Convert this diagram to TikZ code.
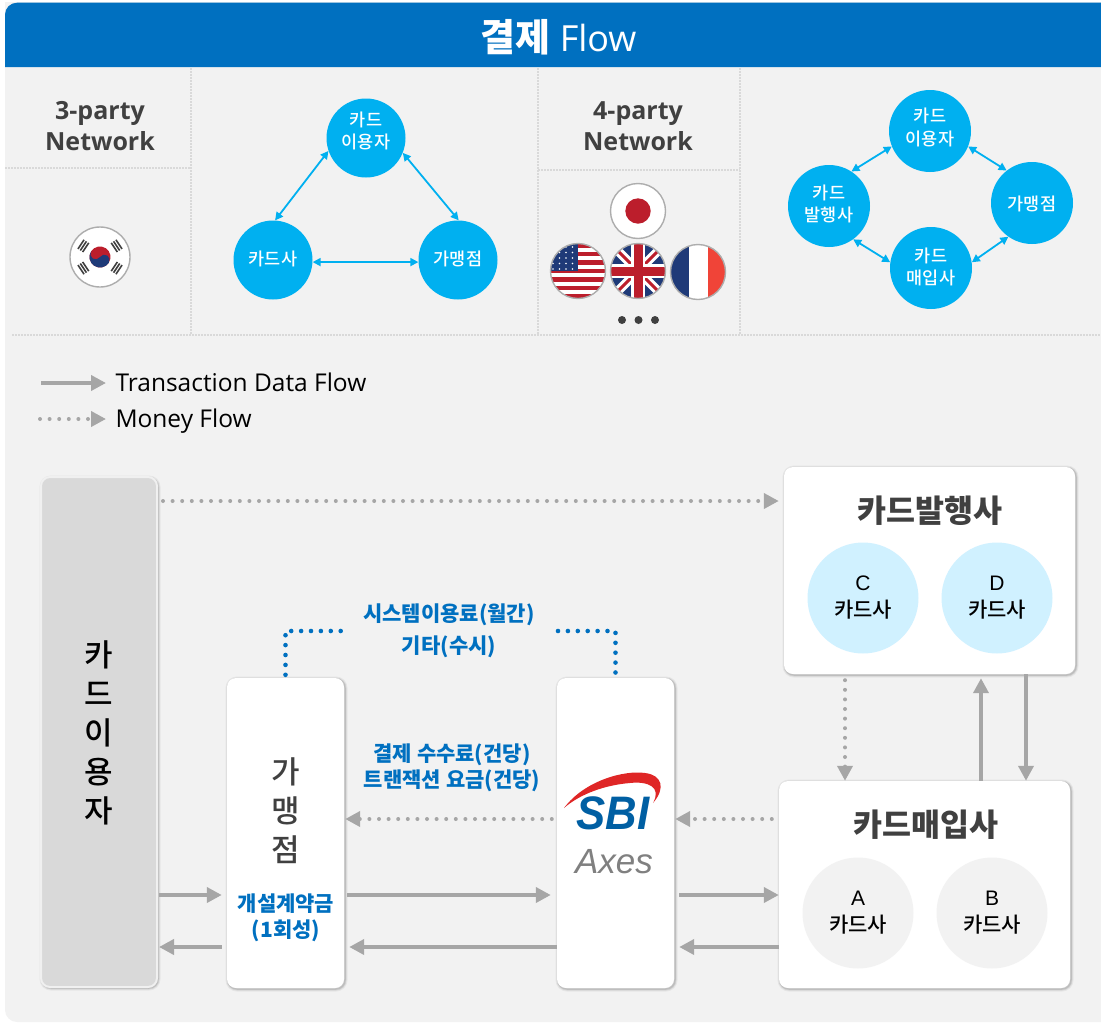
\documentclass[tikz,border=0pt]{standalone}
\usepackage{fontspec}
\usetikzlibrary{arrows.meta}
\setmainfont{Open Sans}
\newfontfamily\kr{Noto Sans CJK KR}
\newfontfamily\krm[UprightFont=* Medium]{Noto Sans CJK KR}
\newfontfamily\lib{Liberation Sans}
\newfontfamily\sbifont[UprightFont=* Bold Italic]{Liberation Sans}
\definecolor{headblue}{HTML}{0070C0}
\definecolor{skyblue}{HTML}{00B0F0}
\definecolor{panelgray}{HTML}{F2F2F2}
\definecolor{arrowgray}{HTML}{A6A6A6}
\definecolor{sepgray}{HTML}{D9D9D9}
\definecolor{darktext}{HTML}{404040}
\definecolor{paleblue}{HTML}{D0F1FF}
\definecolor{flagred}{HTML}{BC1E2C}
\definecolor{flagblue}{HTML}{1F3A78}
\definecolor{flagorange}{HTML}{F04438}
\tikzset{
	party/.style={circle,fill=skyblue,minimum size=79pt,inner sep=0pt},
	partytext/.style={text=white,align=center,inner sep=0pt,font=\krm\fontsize{17.5}{22.5}\selectfont},
	partyarrow/.style={{Triangle[length=8pt,width=8pt]}-{Triangle[length=8pt,width=8pt]},skyblue,line width=1.8pt},
	nettitle/.style={align=center,text=darktext,font=\bfseries\fontsize{25}{31}\selectfont},
	sep/.style={sepgray,line width=1.5pt,dash pattern=on 1.5pt off 1.5pt},
	flagring/.style={draw=black!32,line width=1.4pt},
	box/.style={fill=white,rounded corners=9pt,inner sep=0pt,
		preaction={draw=black,draw opacity=0.05,line width=5pt,transform canvas={xshift=1pt,yshift=-1pt}},
		preaction={draw=black,draw opacity=0.07,line width=3pt,transform canvas={xshift=1pt,yshift=-1pt}},
		preaction={draw=black,draw opacity=0.10,line width=1.5pt,transform canvas={xshift=1pt,yshift=-1pt}}},
	vtext/.style={align=center,font=\krm\fontsize{31}{39}\selectfont},
	boxtitle/.style={text=darktext,font=\kr\bfseries\fontsize{31.5}{36}\selectfont},
	company/.style={circle,minimum size=111pt,inner sep=0pt,align=center,font=\krm\fontsize{21}{26}\selectfont},
	bluetext/.style={text=headblue,align=center,font=\kr\bfseries\fontsize{21}{26}\selectfont},
	data/.style={-{Triangle[length=15pt,width=15pt]},arrowgray,line width=4pt},
	money/.style={-{Triangle[length=15pt,width=15pt]},arrowgray,line width=4pt,line cap=round,dash pattern=on 0pt off 9.6pt},
	fee/.style={headblue,line width=4.6pt,line cap=round,dash pattern=on 0pt off 9.9pt},
	legend/.style={anchor=west,text height=17pt,text depth=5pt,font=\fontsize{24.5}{28}\selectfont}
}
\begin{document}
\begin{tikzpicture}[x=1pt,y=-1pt]
	\useasboundingbox (0,0) rectangle (1101,1023);
	% Grundflaechen
	\fill[panelgray] (5,2) [rounded corners=12pt] -- (5,1022) [sharp corners] -- (1101,1022) -- (1101,2) -- cycle;
	\fill[headblue] (5,67) [rounded corners=12pt] -- (5,2.7) [sharp corners] -- (1101,2.7) -- (1101,67) -- cycle;
	\node[text=white,font=\fontsize{36}{40}\selectfont] (title) at (558.5,37) {{\kr\bfseries\fontsize{38}{40}\selectfont 결제} Flow};
	% Trennlinien
	\draw[sep] (191,68) -- (191,335);
	\draw[sep] (538,68) -- (538,335);
	\draw[sep] (740,68) -- (740,335);
	\draw[sep] (5,168) -- (191,168);
	\draw[sep] (538,170) -- (740,170);
	\draw[sep] (12,335) -- (1101,335);
	% 3-party
	\node[nettitle] (three) at (100,126) {3-party\\Network};
	\node[party] (userA) at (366,138) {};
	\node[party] (cardA) at (273,260) {};
	\node[party] (shopA) at (458,260) {};
	\node[partytext] (userAtext) at (366,131) {카드\\이용자};
	\node[partytext] (cardAtext) at (273,259) {카드사};
	\node[partytext] (shopAtext) at (458,259) {가맹점};
	\draw[partyarrow] (userA.199) -- (cardA.87);
	\draw[partyarrow] (userA.338) -- (shopA.89);
	\draw[partyarrow] (cardA.357) -- (shopA.183);
	% 4-party
	\node[nettitle] (four) at (638,126) {4-party\\Network};
	\node[party,minimum size=82pt] (userB) at (930,131) {};
	\node[party,minimum size=82pt] (issuerB) at (829,206) {};
	\node[party,minimum size=82pt] (shopB) at (1032,203) {};
	\node[party,minimum size=82pt] (acqB) at (931,268) {};
	\node[partytext] (userBtext) at (930,127.5) {카드\\이용자};
	\node[partytext] (issuerBtext) at (829,204) {카드\\발행사};
	\node[partytext] (shopBtext) at (1032,203.5) {가맹점};
	\node[partytext] (acqBtext) at (931,267) {카드\\매입사};
	\draw[partyarrow] (issuerB.57) -- (userB.202);
	\draw[partyarrow] (userB.338) -- (shopB.128);
	\draw[partyarrow] (issuerB.306) -- (acqB.172);
	\draw[partyarrow] (acqB.8) -- (shopB.235);
	% Korea
	\fill[white] (100,257) circle (30pt);
	\begin{scope}[shift={(100,257)},y=1pt,rotate=-33.7]
		\fill[flagred] (0,0) circle (10.5pt);
		\fill[flagblue] (-10.5,0) arc (180:360:10.5pt) arc (0:180:5.25pt) arc (0:-180:5.25pt) -- cycle;
	\end{scope}
	\foreach \ang in {33.7,146.3,213.7,326.3}{
		\begin{scope}[shift={(100,257)},y=1pt,rotate=\ang]
			\foreach \rad in {-2.8,0,2.8}
				\draw[black!75,line width=1.6pt] (20+\rad,-5.5) -- (20+\rad,5.5);
		\end{scope}
	}
	\draw[flagring] (100,257) circle (30pt);
	% Japan
	\fill[white] (638,211) circle (27.5pt);
	\fill[flagred] (638,211) circle (12.7pt);
	\draw[flagring] (638,211) circle (27.5pt);
	% USA
	\begin{scope}
		\clip (578,271) circle (27.5pt);
		\fill[white] (550,243) rectangle (606,299);
		\foreach \i in {0,2,...,12}
			\fill[flagred] (550,{243.5+\i*4.23}) rectangle (606,{243.5+(\i+1)*4.23});
		\fill[flagblue] (550,243) rectangle (578,271);
		\foreach \i in {0,...,3}
			\foreach \j in {0,...,4}
				\fill[white] ({553+\i*6.5},{247+\j*5.5}) circle (0.9pt);
	\end{scope}
	\draw[flagring] (578,271) circle (27.5pt);
	% UK
	\begin{scope}
		\clip (638,271) circle (27.5pt);
		\fill[flagblue] (610,243) rectangle (666,299);
		\draw[white,line width=9pt] (610,243) -- (666,299) (610,299) -- (666,243);
		\draw[flagred,line width=3pt] (610,243) -- (666,299) (610,299) -- (666,243);
		\draw[white,line width=14pt] (638,243) -- (638,299) (610,271) -- (666,271);
		\draw[flagred,line width=9pt] (638,243) -- (638,299) (610,271) -- (666,271);
	\end{scope}
	\draw[flagring] (638,271) circle (27.5pt);
	% France
	\begin{scope}
		\clip (698,272) circle (27.5pt);
		\fill[white] (670,244) rectangle (726,300);
		\fill[flagblue] (670,244) rectangle (689,300);
		\fill[flagorange] (708,244) rectangle (726,300);
	\end{scope}
	\draw[flagring] (698,272) circle (27.5pt);
	\foreach \px in {622,638.5,655}
		\fill[darktext] (\px,320) circle (4pt);
	% Legende
	\coordinate (legA) at (41,383);
	\coordinate (legB) at (106,383);
	\coordinate (legC) at (40,419);
	\coordinate (legD) at (106,419);
	\draw[data] (legA) -- (legB);
	\draw[money] (legC) -- (legD);
	\node[legend] (legdata) at (112,385) {Transaction Data Flow};
	\node[legend] (legmoney) at (112,421) {Money Flow};
	% Kaesten
	\node[box,fill=sepgray,draw=black!6,line width=2pt,minimum width=116pt,minimum height=510pt] (user) at (99,732) {};
	\node[box,minimum width=117pt,minimum height=310pt] (shop) at (285.5,833) {};
	\node[box,minimum width=117pt,minimum height=310pt] (sbi) at (615.5,833) {};
	\node[box,minimum width=291pt,minimum height=207pt] (issuer) at (929.5,570.5) {};
	\node[box,minimum width=291pt,minimum height=207pt] (acq) at (924.5,884.5) {};
	\node[vtext] (usertext) at (99,733) {카\\드\\이\\용\\자};
	\node[vtext,text=darktext] (shoptext) at (286,811) {가\\맹\\점};
	\node[bluetext] (shopfee) at (286,918) {개설계약금\\(1회성)};
	\node[boxtitle] (issuertitle) at (930,511) {카드발행사};
	\node[boxtitle] (acqtitle) at (926,825) {카드매입사};
	\node[company,fill=paleblue] (compC) at (863,598) {\raisebox{1pt}{\lib C}\\카드사};
	\node[company,fill=paleblue] (compD) at (997,598) {\raisebox{1pt}{\lib D}\\카드사};
	\node[company,fill=panelgray] (compA) at (858,913) {\raisebox{1pt}{\lib A}\\카드사};
	\node[company,fill=panelgray] (compB) at (992,913) {\raisebox{1pt}{\lib B}\\카드사};
	% SBI
	\fill[red!85!black!85] (564,808) .. controls (585,780) and (625,770) .. (645,773) .. controls (662,775) and (666,788) .. (653,803) .. controls (662,787) and (648,781) .. (630,783) .. controls (605,785) and (580,794) .. (564,808) -- cycle;
	\node[text=headblue!85!black,xscale=0.93,font=\sbifont\fontsize{47}{47}\selectfont] (sbilogo) at (613,813) {SBI};
	\node[text=black!50,font=\lib\itshape\fontsize{35}{35}\selectfont] (axes) at (614,862) {Axes};
	% Pfeile
	\draw[money] ([xshift=5pt,yshift=-25pt]user.north east) -- ([xshift=-5pt]issuer.west |- 0,501);
	\draw[data] ([xshift=1pt]user.east |- 0,895) -- ([xshift=-5pt]shop.west |- 0,895);
	\draw[data] ([xshift=-5pt]shop.west |- 0,947) -- ([xshift=1pt]user.east |- 0,947);
	\draw[data] ([xshift=3pt]shop.east |- 0,895) -- ([xshift=-6pt]sbi.west |- 0,895);
	\draw[data] (sbi.west |- 0,947) -- ([xshift=5pt]shop.east |- 0,947);
	\draw[data] ([xshift=5pt]sbi.east |- 0,895) -- (acq.west |- 0,895);
	\draw[data] (acq.west |- 0,947) -- ([xshift=5pt]sbi.east |- 0,947);
	\draw[data] (acq.north -| 981,0) -- ([yshift=-4pt]issuer.south -| 981,0);
	\draw[data] (issuer.south -| 1026,0) -- (acq.north -| 1026,0);
	\draw[money] ([yshift=-6pt]issuer.south -| 845,0) -- (acq.north -| 845,0);
	\draw[money] ([xshift=-7pt]acq.west |- 0,819) -- ([xshift=1pt]sbi.east |- 0,819);
	\draw[money] ([xshift=-5pt]sbi.west |- 0,819) -- ([xshift=1pt]shop.east |- 0,819);
	\coordinate (feeA) at (341,631);
	\coordinate (feeB) at (558,631);
	\draw[fee] ([yshift=3pt]shop.north) -- (shop.north |- feeA) -- (feeA);
	\draw[fee] (feeB) -- (feeB -| sbi.north) -- ([yshift=5pt]sbi.north);
	\node[bluetext] (feetop) at (449,615) {시스템이용료(월간)};
	\node[bluetext] (feeetc) at (449,647) {기타(수시)};
	\node[bluetext] (feemid) at (452,768) {결제 수수료(건당)\\트랜잭션 요금(건당)};
\end{tikzpicture}
\end{document}
